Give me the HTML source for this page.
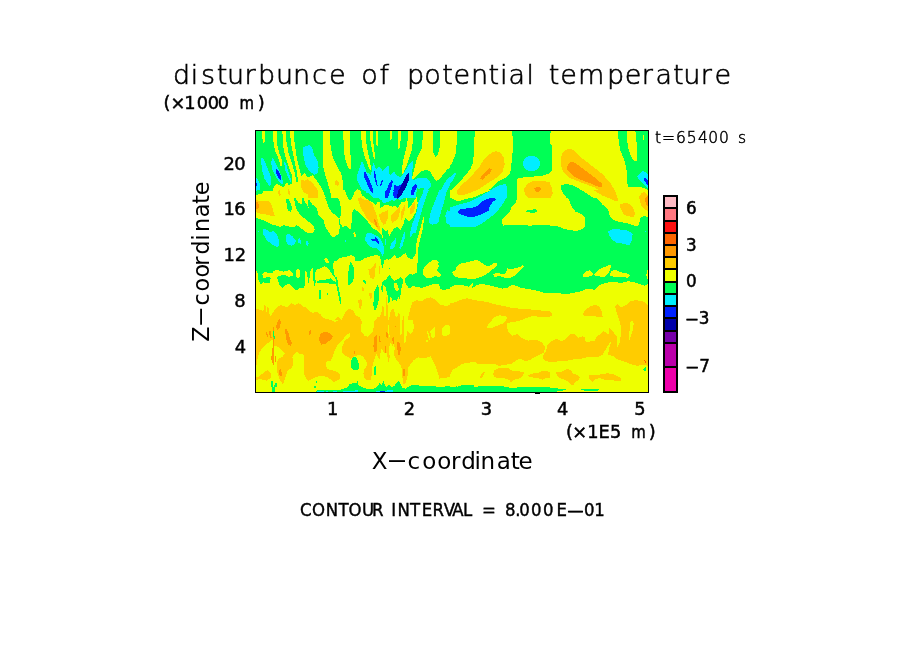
<!DOCTYPE html>
<html lang="en">
<head>
<meta charset="utf-8">
<title>disturbunce of potential temperature</title>
<style>
html,body{margin:0;padding:0;background:#fff;}
body{width:904px;height:654px;overflow:hidden;position:relative;font-family:"Liberation Sans",sans-serif;color:#000;}
svg{position:absolute;left:0;top:0;display:block;}
text{font-family:"Liberation Sans",sans-serif;fill:#000;}
</style>
</head>
<body>
<svg width="904" height="654" viewBox="0 0 904 654">
<defs><clipPath id="plot"><rect x="255.5" y="130.5" width="393" height="262"/></clipPath></defs>
<rect x="0" y="0" width="904" height="654" fill="#fff"/>
<g clip-path="url(#plot)" shape-rendering="crispEdges">
<rect x="255" y="130" width="394" height="263" fill="#00ff55"/>
<path fill="#eeff00" d="M262.3,130.8L264.8,130.8L264.8,141.7L263.4,143.1L262.1,137.3Z M273.1,130.8L277.1,130.8L277.3,145.1L279.2,152.9L281.8,159.6L282.4,165.2L280.7,166.3L278.5,158.5L275.1,150.7L273.4,141.7Z M282.4,130.8L286.3,130.8L286.5,141.7L288.5,152.9L291.9,162.9L294.4,171.9L296.3,180.8L296.9,187.5L292.4,187.5L291.9,175.2L288.5,166.3L285.2,156.2L282.9,145.1Z M290.2,130.8L293.9,130.8L294.4,141.7L296.0,152.9L298.2,164.1L300.8,174.1L302.5,178.6L302.5,187.5L298.0,187.5L297.4,174.1L295.2,164.1L293.0,152.9L290.7,141.7Z M255.4,194.8L261.2,194.2L264.0,190.8L272.3,191.4L275.1,184.7L277.9,184.2L283.5,187.5L286.8,182.5L289.1,185.3L292.4,183.0L299.1,181.9L301.3,176.3L304.7,173.2L308.0,177.5L312.5,175.2L317.0,180.8L321.4,187.5L325.9,198.0L255.4,198.0Z M322.5,130.8L329.8,130.8L330.6,147.3L333.1,158.5L338.2,168.5L341.0,173.0L342.6,180.8L342.6,192.0L341.5,198.0L331.5,198.0L329.8,189.7L327.0,180.8L323.7,169.6L322.5,158.5Z M343.2,130.8L350.0,130.8L350.0,169.1L348.2,167.4L344.9,158.5L343.8,147.3Z M350.0,155.1L351.1,155.1L351.1,168.5L350.0,168.5Z M361.2,130.8L366.0,130.8L366.2,141.7L367.9,152.9L370.1,161.8L371.2,169.6L370.1,171.0L368.4,166.3L364.5,156.2L361.7,145.1Z M370.1,130.8L372.9,130.8L373.2,141.7L374.6,152.9L375.1,159.0L374.0,159.6L372.3,150.7L370.4,140.6Z M375.9,130.8L377.9,130.8L377.9,145.6L376.8,146.8L376.1,141.7Z M390.0,130.8L391.9,130.8L391.9,138.4L390.7,140.6L390.0,137.3Z M398.0,130.8L400.8,130.8L400.8,139.5L399.7,147.3L398.5,149.0L398.0,141.7Z M408.0,130.8L412.8,130.8L412.8,141.7L411.9,149.6L409.2,158.5L405.8,167.4L403.0,174.1L401.9,174.1L401.9,168.5L403.6,158.5L406.4,147.3L408.0,138.4Z M423.1,130.8L433.1,130.8L433.5,152.9L435.4,156.8L437.6,155.1L439.8,147.3L439.8,130.8L450.0,130.8L450.0,167.4L447.1,169.6L442.6,175.2L439.3,179.7L435.9,180.8L433.7,177.5L430.4,171.9L427.0,170.2L421.4,170.8L417.0,175.2L412.5,179.9L411.9,178.6L414.2,169.6L417.0,158.5L419.8,152.9L422.0,147.3Z M352.8,198.0L354.5,192.0L357.3,189.2L360.0,192.0L362.3,196.4L362.8,198.0Z M450.0,130.8L457.3,130.8L456.9,141.7L455.6,154.0L452.2,162.9L450.0,166.3Z M475.1,130.8L511.9,130.8L513.1,141.7L512.5,152.9L511.4,164.1L510.3,173.0L505.8,177.5L499.1,180.8L492.4,187.5L483.5,193.1L472.3,198.0L450.0,198.0L450.0,192.0L456.7,185.3L463.4,177.5L470.1,169.6L472.9,162.9L474.0,152.9L474.0,141.7Z M517.0,198.0L517.0,178.6L527.0,176.9L537.1,176.3L544.9,175.2L550.0,173.0L550.0,198.0Z M551.1,130.8L617.5,130.8L618.6,139.5L620.3,150.7L624.2,159.6L626.5,169.6L627.0,180.8L628.1,186.9L632.6,187.5L638.2,186.9L644.9,188.1L648.5,190.8L648.5,198.0L550.0,198.0L550.0,173.0L551.7,170.8L551.7,145.1L550.0,144.0L550.0,133.9L551.1,132.8Z M627.0,130.8L635.4,130.8L636.5,141.7L636.8,152.9L636.8,160.7L633.7,160.7L630.4,155.1L628.1,147.3L626.5,136.2Z M642.9,135.0L644.0,135.0L644.0,140.1L642.9,140.1Z M324.8,197.3L327.0,202.3L329.2,208.4L332.0,212.9L334.8,214.6L338.7,217.9L339.8,226.8L338.7,233.5L334.8,236.9L332.6,237.4L328.1,231.3L324.8,225.7L323.7,220.1L320.3,217.3L318.1,214.0L317.0,209.0L314.7,205.6L312.5,205.1L310.8,202.3L309.2,199.5L307.5,200.0L308.6,207.9L308.0,206.7L304.7,201.2L303.0,197.3L301.6,197.3L301.9,204.5L298.0,202.3L295.8,198.4L294.3,197.3L294.6,202.3L296.3,209.0L299.1,213.4L302.5,216.8L305.8,219.6L310.8,223.5L314.2,226.8L314.7,230.2L312.5,233.0L308.0,233.5L303.6,230.2L299.1,226.8L296.3,225.2L293.5,227.4L283.5,225.2L280.1,226.8L272.3,224.6L263.4,220.1L255.4,217.9L255.4,197.3Z M331.5,190.0L344.9,190.0L347.1,196.7L350.0,201.2L350.0,229.6L348.2,227.9L346.0,225.7L342.6,226.8L340.4,223.5L339.3,217.9L341.0,215.7L341.0,209.0L339.3,200.0L334.8,195.6Z M350.0,201.2L354.5,193.3L356.7,190.0L360.0,190.0L362.3,195.6L366.7,198.9L372.3,202.3L375.7,205.6L377.9,201.2L379.6,202.3L380.1,207.9L382.4,206.7L385.7,204.5L389.1,205.6L392.4,206.7L394.6,205.6L398.0,207.9L401.3,202.3L405.8,201.2L406.9,196.7L407.5,201.2L408.0,209.0L410.3,206.7L414.7,200.0L417.0,196.1L418.1,197.8L417.5,204.5L415.8,212.3L412.5,217.9L409.2,221.2L406.9,219.0L405.2,217.9L403.6,223.5L400.2,230.2L398.0,226.8L394.6,227.9L391.3,232.4L389.1,236.9L387.9,230.2L385.7,231.3L383.5,229.1L381.8,226.8L382.4,234.6L383.5,240.2L381.2,234.6L377.9,231.3L372.3,227.9L369.0,223.5L366.7,220.1L363.4,216.8L358.9,212.3L354.5,209.0L352.2,212.3L351.1,229.1L350.0,229.6Z M415.8,248.0L417.0,240.2L419.2,232.4L421.4,224.6L423.1,216.8L424.2,217.9L423.1,226.8L420.9,236.9L418.6,245.8L418.1,252.5L417.5,263.0L415.3,263.0Z M353.3,233.0L355.0,231.9L355.8,234.6L355.4,238.0L353.9,236.9Z M350.0,258.1L353.3,255.8L355.0,257.0L354.5,261.4L361.2,261.4L365.6,259.2L370.1,256.4L373.4,257.0L376.8,254.7L380.1,257.0L381.2,263.0L350.0,263.0Z M384.0,263.0L384.6,259.8L387.9,260.3L391.3,258.1L394.6,255.3L396.9,258.1L400.2,257.0L404.7,253.6L405.8,253.1L408.0,258.1L412.5,259.2L415.8,253.6L417.5,263.0Z M430.4,263.0L432.6,260.3L435.9,259.8L439.3,263.0Z M450.0,190.0L491.3,190.0L483.5,193.3L474.6,196.7L464.5,199.5L457.8,201.2L450.0,197.8Z M517.0,190.0L550.0,190.0L550.0,225.2L539.3,224.8L530.4,225.7L517.0,224.8L505.8,224.8L503.0,225.7L502.2,222.4L502.5,219.0L505.8,216.2L510.3,211.2L511.4,206.7L515.8,202.3L517.0,198.9Z M466.7,263.0L471.2,260.9L476.8,260.1L480.1,261.4L481.2,263.0Z M550.0,190.0L561.7,190.0L564.5,194.5L569.0,200.0L572.3,207.9L575.7,211.8L580.1,213.4L584.6,216.8L585.2,225.7L582.4,229.1L577.9,230.7L570.1,230.4L563.4,228.5L557.8,226.3L550.0,225.7Z M582.4,190.0L648.0,190.0L648.0,216.8L644.9,216.2L641.0,216.8L639.3,222.4L638.2,225.5L634.8,225.7L628.1,223.5L619.2,221.8L613.6,220.1L609.7,216.8L609.2,212.3L606.9,207.9L602.5,204.5L599.1,200.0L594.6,196.7L587.9,193.3Z M255.0,300.0L649.0,300.0L649.0,393.0L255.0,393.0Z M255.4,271.2L257.3,271.7L258.4,279.6L260.6,284.6L263.4,282.3L269.5,283.5L270.6,278.4L269.5,276.8L263.4,277.9L262.3,274.0L264.5,272.3L272.3,272.9L274.0,270.6L277.9,270.1L283.5,271.7L289.1,270.1L292.4,272.3L293.0,275.6L289.1,276.8L283.5,274.5L276.8,276.8L279.0,284.0L282.4,288.5L285.7,285.1L289.1,283.5L292.4,287.4L295.8,290.7L299.1,288.5L303.6,287.9L305.2,284.0L304.7,271.7L306.4,271.2L307.5,277.3L308.6,284.0L309.7,277.3L310.8,269.0L312.5,268.4L313.1,277.3L314.2,287.4L315.8,281.8L314.7,272.9L317.0,269.5L321.4,267.8L324.2,266.2L328.1,268.4L331.5,272.9L333.1,276.2L334.8,277.3L333.1,266.2L333.7,261.7L337.1,260.6L339.3,258.3L342.6,257.2L350.0,256.1L350.0,328.0L255.4,328.0Z M295.8,270.6L298.0,269.0L299.7,270.6L299.7,277.3L298.0,279.0L296.0,276.8Z M324.2,258.9L325.9,257.8L328.1,260.0L329.5,262.3L328.1,263.7L325.9,262.3Z M350.0,255.0L353.3,256.1L354.5,260.6L356.7,261.7L361.2,260.6L364.5,258.3L370.1,256.7L375.7,255.0L380.1,256.7L381.8,267.3L382.9,268.4L384.0,260.6L386.8,258.9L389.1,260.6L394.6,255.6L396.9,258.3L400.2,258.9L404.7,255.6L406.9,257.2L410.3,260.0L413.6,257.8L417.0,255.0L417.0,272.9L412.5,274.5L409.2,274.0L405.8,277.3L404.7,281.8L406.9,285.7L409.2,288.5L412.5,286.2L417.0,286.8L421.4,287.9L428.1,285.7L434.8,283.5L438.2,283.5L440.4,288.5L442.6,290.2L450.0,288.5L450.0,328.0L350.0,328.0Z M423.1,269.5L425.9,265.0L430.4,261.7L433.7,260.0L438.2,261.7L438.7,266.2L437.1,270.6L439.3,272.9L441.0,275.1L439.3,276.8L434.8,276.2L430.4,278.4L425.9,277.9L423.1,275.1Z M450.0,287.4L454.5,285.1L461.2,284.9L469.0,286.8L472.3,282.9L473.2,283.5L471.8,288.5L475.7,285.7L480.1,284.2L486.8,284.6L494.6,286.8L502.5,288.5L508.0,287.9L510.3,285.7L513.6,284.9L517.0,286.2L521.4,287.9L528.1,289.0L537.1,290.7L543.8,292.9L550.0,292.9L550.0,328.0L450.0,328.0Z M452.0,271.7L455.0,271.2L456.7,266.2L461.2,263.4L470.1,261.7L475.7,260.0L480.1,261.7L485.7,265.6L489.1,266.2L493.5,263.4L496.9,263.0L496.9,266.2L492.4,269.5L486.8,274.0L480.1,277.3L474.6,279.0L465.6,278.4L456.7,277.3L453.3,275.1Z M493.0,274.5L498.0,272.3L502.5,274.5L505.8,272.9L507.5,268.4L511.4,269.0L514.7,268.4L519.2,267.3L523.1,265.0L523.9,266.2L520.3,270.6L515.8,275.1L510.3,277.9L504.7,277.9L500.2,276.2L494.6,276.8Z M550.0,292.9L561.2,293.5L570.1,293.5L579.0,291.8L586.8,289.0L594.6,289.6L599.1,285.1L605.8,282.9L612.5,281.8L621.4,282.9L628.1,281.2L634.8,282.3L641.5,284.6L644.9,285.7L648.2,283.5L648.2,328.0L550.0,328.0Z M582.9,275.1L585.7,271.7L589.6,270.1L593.0,274.0L592.4,275.6L586.8,277.3L583.5,276.8Z M594.1,274.0L598.0,270.1L603.6,267.3L608.0,265.6L610.8,265.0L610.3,269.5L608.0,274.0L603.6,277.3L599.1,276.2L594.6,275.6Z M609.7,275.1L611.9,270.6L615.8,270.1L621.4,272.3L628.1,273.8L630.1,275.6L628.1,277.9L621.4,276.8L614.7,276.8L610.3,276.2Z M646.2,275.1L647.1,270.6L648.2,270.1L648.2,279.0L647.1,278.4Z"/>
<path fill="#00ff55" d="M561.2,185.3L564.5,184.2L571.2,184.7L579.0,188.6L587.9,194.2L593.5,198.0L566.7,198.0L562.3,192.0L561.2,188.6Z M286.3,199.5L288.5,198.9L290.7,203.4L292.2,209.0L290.7,211.8L288.5,211.2L286.8,206.7Z M525.0,211.2L528.1,210.1L532.6,209.5L535.9,209.2L537.6,210.6L536.5,212.3L532.6,212.9L528.1,212.3Z M316.4,282.3L319.2,280.1L325.9,279.6L330.4,278.4L333.7,281.2L337.1,282.3L336.5,284.0L330.4,283.8L325.9,282.9L319.2,283.5Z M319.2,290.2L320.5,290.2L320.9,298.5L319.4,298.5Z M326.8,292.9L328.1,292.9L328.1,294.6L326.8,294.6Z M335.4,277.3L337.1,277.3L338.7,288.5L341.0,299.6L341.3,305.2L340.2,304.1L338.2,294.1L335.9,282.9Z M347.8,276.2L348.9,268.4L350.0,261.7L351.1,261.7L353.3,266.2L354.5,271.7L353.3,280.7L350.0,285.1L347.8,285.1Z M362.8,280.1L364.5,280.1L366.7,282.9L365.6,284.0L363.4,281.8Z M374.0,291.8L376.8,286.2L377.9,285.1L379.0,288.5L379.2,297.4L377.9,304.1L376.2,308.6L374.6,310.8L373.4,305.2L373.7,297.4Z M382.4,281.8L385.7,279.6L389.1,275.1L390.2,274.0L390.7,277.3L394.6,280.7L398.0,279.0L400.8,277.3L402.5,279.0L402.5,284.0L400.8,290.7L400.2,299.6L398.5,297.4L396.9,300.8L394.6,299.6L392.4,300.8L390.7,296.3L389.6,301.9L388.5,303.0L387.9,296.3L386.8,291.8L385.7,287.4L383.5,285.1L382.9,291.8L381.8,291.8L381.2,287.4Z M389.1,267.8L390.2,267.8L390.2,269.0L389.1,269.0Z"/>
<path fill="#eeff00" d="M394.6,282.9L396.3,282.3L398.0,286.2L398.9,289.6L396.9,291.3L394.6,288.5L394.1,285.1Z"/>
<path fill="#ffcc00" d="M301.3,179.7L304.7,180.8L307.5,179.1L312.5,183.0L317.0,188.6L318.1,194.2L317.0,198.0L308.0,198.0L308.0,193.1L303.6,192.0L301.3,187.5Z M334.3,181.9L336.5,179.7L339.1,182.5L338.2,185.8L335.4,184.7Z M277.3,190.8L279.6,190.3L280.7,194.2L280.1,196.4L278.5,194.2Z M287.4,189.7L288.5,188.6L290.0,192.0L289.6,194.8L287.9,193.1Z M456.7,192.0L461.2,185.3L470.1,177.5L479.0,167.4L484.6,158.5L491.3,152.9L495.8,151.2L500.2,152.3L503.6,157.4L504.7,164.1L502.5,171.9L496.9,177.5L487.9,183.0L477.9,189.7L466.7,194.2L460.0,195.3L456.7,193.6Z M524.2,188.6L527.0,184.2L532.6,181.4L539.3,180.8L550.0,181.9L550.0,198.0L528.1,198.0L524.8,194.2Z M560.6,158.5L562.3,152.9L566.7,149.6L571.2,149.0L575.7,151.8L582.4,158.5L592.4,166.3L602.5,174.1L610.3,183.0L615.8,192.0L617.0,198.0L608.0,198.0L602.5,192.0L594.6,187.5L585.7,184.2L576.8,180.8L569.0,177.5L563.4,171.9L560.6,165.2Z M550.0,184.2L551.7,187.5L552.2,192.0L551.1,198.0L550.0,198.0Z M639.3,196.4L643.8,192.0L646.0,193.1L647.1,198.0L639.3,198.0Z M255.4,198.9L258.9,201.2L269.0,201.2L271.2,204.5L273.4,211.2L274.6,215.7L272.3,216.2L266.7,214.6L261.2,214.0L255.4,211.8Z M302.5,190.0L318.1,190.0L318.1,196.7L317.0,198.7L312.5,196.7L308.0,194.5L303.6,192.2Z M358.4,197.8L360.6,197.3L364.5,200.0L369.0,200.0L372.3,203.4L374.6,210.1L376.8,215.7L377.9,221.2L379.6,226.8L380.1,231.3L377.9,229.1L374.6,224.6L371.2,222.4L366.7,217.9L363.4,212.3L360.0,205.6L358.4,201.2Z M379.2,214.6L382.4,212.3L385.7,211.2L388.5,210.1L387.9,217.9L385.7,223.5L383.5,224.6L381.2,221.2L379.6,217.9Z M391.3,215.7L394.6,212.3L398.0,209.0L400.2,205.6L399.7,212.3L398.0,219.0L394.6,221.2L391.9,223.5L391.3,220.1Z M400.8,212.3L402.5,209.0L404.5,205.1L404.7,210.1L403.0,216.8L401.3,220.1Z M409.7,209.0L412.5,204.5L414.7,201.7L415.3,206.7L413.6,212.3L410.8,215.1L409.7,212.3Z M456.7,190.0L474.6,190.0L470.1,192.8L463.4,195.0L458.9,195.0L456.7,192.2Z M524.2,190.0L550.0,190.0L550.0,197.8L539.3,198.4L532.6,196.7L527.0,193.3Z M550.0,190.0L552.2,190.0L552.8,193.3L551.1,196.1L550.0,196.7Z M593.5,190.0L614.2,190.0L617.0,195.6L618.1,201.2L614.7,200.6L608.0,197.8L601.3,195.0L596.9,192.2Z M620.3,204.0L625.9,202.8L630.4,204.5L633.7,209.0L635.0,213.4L633.7,217.3L628.1,216.2L623.7,214.6L621.4,210.1L620.1,206.7Z M639.3,196.7L641.5,193.3L644.3,192.2L648.0,195.6L648.0,211.2L644.9,209.5L641.5,205.6L639.8,201.2Z M255.4,308.6L260.0,309.7L263.4,310.8L264.5,305.2L265.6,305.8L266.2,314.2L267.3,306.3L268.4,307.5L269.0,313.0L270.6,315.8L273.4,311.9L276.8,307.5L280.1,305.2L283.5,305.8L286.8,307.5L291.3,303.0L294.6,305.2L299.1,303.2L302.5,306.3L305.8,307.5L309.2,310.8L312.5,313.0L317.0,311.4L320.3,314.2L323.7,318.1L328.1,319.2L332.6,322.0L335.9,318.6L338.2,316.9L341.5,319.7L343.8,315.3L346.0,310.8L350.0,308.6L350.0,328.0L255.4,328.0Z M368.4,269.5L372.3,267.8L375.1,262.8L375.9,263.4L375.4,269.5L375.1,276.2L373.4,279.6L370.6,277.9L369.2,274.0Z M378.8,266.2L379.9,266.2L379.9,274.0L378.8,274.0Z M362.1,287.4L363.4,287.4L364.0,290.7L362.8,291.8L362.1,290.2Z M369.2,293.5L371.8,292.9L372.1,296.3L371.2,299.6L369.9,299.1Z M358.4,300.2L360.6,299.1L362.1,300.8L361.7,305.2L360.6,309.7L359.5,307.5L358.4,303.0Z M350.0,309.1L353.3,310.8L355.6,315.3L360.0,317.5L361.7,322.0L361.2,328.0L350.0,328.0Z M374.6,328.0L375.1,322.0L377.3,317.5L380.1,316.4L381.8,310.8L382.9,304.1L384.0,308.6L384.6,317.5L385.7,315.3L385.9,308.6L386.3,295.2L387.4,303.0L387.9,310.8L388.5,322.0L390.2,313.0L392.4,308.6L394.1,309.7L395.2,315.3L396.9,317.5L399.1,310.8L399.7,315.3L399.7,328.0Z M402.5,328.0L402.7,317.5L403.6,315.3L404.1,328.0Z M408.0,317.5L410.3,308.6L412.5,301.9L417.0,300.2L421.4,301.3L425.9,298.5L430.4,297.4L434.8,299.1L438.2,303.0L441.5,305.2L446.0,305.8L450.0,305.2L450.0,328.0L413.6,328.0L411.4,323.1L408.6,320.8Z M450.0,303.0L454.5,302.4L461.2,299.6L466.7,298.3L472.3,299.6L477.9,300.8L486.8,301.9L494.6,304.1L502.5,305.8L510.3,307.5L519.2,308.6L528.1,309.1L537.1,310.2L544.9,310.8L550.0,310.8L550.0,317.5L539.3,316.9L532.6,315.8L528.1,317.5L519.2,320.8L510.3,322.5L506.9,323.6L506.9,328.0L486.8,328.0L450.0,328.0Z M550.0,311.9L551.7,313.0L552.0,315.3L550.0,316.9Z M582.4,314.2L585.7,309.7L591.3,305.8L595.8,305.0L599.1,306.3L601.9,311.9L602.7,316.9L594.6,316.4L584.6,316.4Z M615.3,306.3L617.5,304.1L621.4,307.5L625.9,305.2L630.4,301.3L634.8,300.2L641.5,300.8L646.0,303.0L648.2,306.3L648.2,328.0L634.3,328.0L633.7,322.0L632.0,320.3L630.4,322.0L629.8,328.0L621.4,328.0L619.2,319.7L617.0,314.2L615.8,309.7Z M255.4,320.0L350.0,320.0L350.0,332.3L346.0,335.6L341.5,341.2L337.1,345.7L334.8,350.1L332.6,356.8L330.4,361.3L327.0,360.7L325.9,364.6L327.0,369.1L332.6,370.2L338.2,372.5L340.4,375.8L339.3,379.2L333.7,382.5L330.4,379.2L327.0,376.9L321.4,375.8L315.8,376.9L311.4,379.2L308.0,380.8L304.7,375.8L303.6,370.2L304.1,362.4L303.6,354.6L299.1,353.5L296.9,351.8L294.6,353.5L292.4,356.8L293.0,364.6L291.3,368.0L287.9,370.2L285.7,375.8L284.0,382.5L282.4,383.6L279.6,379.2L277.3,372.5L276.8,364.6L277.9,359.1L282.4,356.8L284.6,353.5L281.2,350.1L277.9,346.8L274.0,345.7L272.3,339.5L269.0,342.3L264.5,345.7L260.0,351.2L257.8,356.8L256.7,364.6L255.4,364.6Z M255.4,378.0L260.0,375.8L264.5,371.9L267.9,370.2L270.6,373.6L270.6,378.0L266.7,380.8L261.2,379.2L256.7,379.7L255.4,380.3Z M350.0,357.9L344.3,355.2L341.5,351.2L342.1,346.8L344.9,340.6L350.0,336.7Z M350.0,320.0L361.2,320.0L361.2,331.2L364.5,335.6L367.9,336.7L372.3,332.3L374.0,326.7L374.6,320.0L399.7,320.0L400.2,334.5L401.3,336.7L401.9,328.9L402.5,320.0L403.6,320.0L404.1,342.3L405.2,343.4L405.8,333.4L406.9,326.7L408.6,320.0L450.0,320.0L450.0,376.9L444.9,378.0L439.3,378.6L438.2,373.6L435.9,366.9L432.6,360.2L430.4,356.3L427.0,357.4L422.5,358.5L418.1,357.4L413.6,360.2L410.3,364.6L408.0,368.0L407.5,375.8L405.8,382.5L403.6,384.7L402.5,378.0L401.9,369.1L400.2,364.6L396.9,360.2L394.6,356.8L393.5,351.2L392.4,345.7L390.2,342.3L389.1,347.9L389.6,356.8L389.1,364.6L387.9,359.1L386.8,353.5L383.5,352.4L381.8,347.9L380.1,354.6L379.6,359.1L377.9,357.9L376.8,353.5L375.1,356.8L373.4,362.4L372.3,366.9L371.8,373.6L371.2,379.2L367.9,380.8L364.5,378.0L363.4,373.6L364.5,369.1L366.7,365.8L366.7,362.4L363.4,356.8L360.6,355.2L355.6,355.7L352.2,357.9L350.0,359.1Z M450.0,320.0L491.9,320.0L489.1,323.3L485.7,326.7L494.6,325.6L500.2,324.5L505.8,322.2L506.9,326.7L508.0,331.2L512.5,335.6L517.0,334.0L521.4,337.9L528.1,340.6L534.8,340.1L539.3,340.6L542.6,343.4L545.4,347.9L543.8,352.4L539.3,355.2L534.8,356.8L530.4,359.6L525.9,361.3L522.5,359.6L519.2,358.5L515.8,360.7L511.4,364.1L505.8,364.6L499.1,365.8L494.6,364.1L491.3,363.5L486.8,364.6L483.5,363.5L479.0,364.6L474.6,361.9L470.1,362.4L461.2,364.1L456.7,368.0L453.3,369.1L450.0,374.7Z M550.0,361.9L544.9,360.7L542.6,357.9L543.8,353.5L546.0,351.2L547.1,345.7L550.0,342.3Z M493.0,373.6L494.6,370.2L499.1,368.2L508.0,368.0L512.5,370.8L519.2,371.3L523.7,372.5L523.1,375.8L519.2,378.6L513.6,379.7L510.8,382.5L509.7,380.3L505.8,378.6L498.0,378.0L494.1,376.9Z M528.1,375.2L532.6,373.6L538.2,373.0L541.5,371.3L547.1,370.8L550.0,372.5L550.0,378.0L546.0,378.0L542.6,379.7L538.2,378.0L532.6,377.5L529.2,376.9Z M479.6,378.0L481.2,374.7L483.5,371.9L484.8,371.9L483.5,375.2L481.2,378.6Z M550.0,342.3L553.3,340.1L556.7,339.0L561.2,341.2L566.7,338.4L570.1,334.5L574.6,334.0L577.9,337.9L582.4,336.2L585.2,337.9L585.7,342.3L594.6,340.6L596.9,336.7L603.6,331.2L606.9,333.4L608.6,334.5L609.2,327.3L612.5,331.2L617.0,336.7L617.5,346.8L619.8,342.3L621.4,331.2L620.3,320.0L630.4,320.0L629.8,328.9L628.7,336.7L629.2,341.2L632.6,331.2L633.7,323.3L632.6,320.0L648.2,320.0L648.2,365.8L643.8,364.6L637.1,365.8L630.4,364.1L623.7,361.3L617.0,359.1L612.5,355.7L608.0,355.2L609.2,347.9L611.4,341.2L609.2,343.4L605.8,349.0L602.5,354.6L598.0,357.4L589.1,356.8L582.4,358.5L574.6,359.1L566.7,360.7L558.9,361.3L550.0,362.4Z M555.6,372.5L561.2,371.9L566.7,369.1L570.1,369.7L573.4,373.6L577.9,375.2L579.9,378.0L577.9,380.3L574.6,382.5L574.0,385.3L571.2,385.3L567.9,381.4L563.4,379.2L558.9,378.0L556.7,374.7Z M588.5,375.2L592.4,374.7L596.9,375.2L601.3,374.1L608.0,373.3L614.7,374.7L619.2,376.9L621.4,379.2L620.3,381.4L615.8,380.8L610.3,379.7L605.8,380.3L600.2,378.0L595.8,379.2L593.0,381.9L590.2,380.3L588.5,377.5Z"/>
<path fill="#eeff00" d="M486.8,326.4L491.3,320.8L494.6,316.9L499.1,315.3L504.7,315.8L506.9,317.5L505.8,320.8L502.5,323.6L496.9,325.9L491.3,328.0L486.8,328.0Z M330.9,320.0L338.2,320.0L335.9,321.7L332.6,321.3Z M405.8,320.0L412.5,320.0L414.2,326.7L413.1,331.2L410.3,334.0L407.5,331.2L406.4,336.7L405.2,343.4L404.1,342.3L404.1,331.2Z M441.5,328.9L444.9,325.6L448.2,325.0L450.0,326.7L450.0,333.4L447.1,335.6L443.8,336.7L441.5,333.4Z M430.4,331.2L432.6,328.4L434.8,327.3L435.4,333.4L434.3,338.4L432.0,337.9L430.6,334.5Z M425.9,340.6L427.6,339.5L428.1,341.8L426.5,342.3Z M427.0,331.7L428.1,331.2L429.8,336.7L430.4,340.6L429.2,340.1L427.9,335.6Z M434.8,371.3L436.5,370.8L436.5,374.7L435.0,375.2Z M387.9,324.5L389.1,324.5L389.6,336.7L389.1,340.1L388.2,331.2Z M393.0,337.9L394.1,340.1L394.6,349.0L394.1,356.8L393.0,351.2Z"/>
<path fill="#ff9900" d="M480.1,178.6L482.4,175.2L486.8,170.8L489.6,168.0L491.9,169.6L490.2,173.0L485.7,176.3L482.4,179.7Z M534.3,188.1L537.1,186.9L540.4,187.5L541.0,189.7L539.3,191.7L535.9,191.4Z M567.3,166.3L569.0,162.9L572.3,161.8L576.8,164.1L585.7,170.8L594.6,177.5L601.3,183.0L602.5,185.8L600.2,187.5L592.4,184.2L583.5,180.8L575.7,177.5L570.1,173.0L567.3,169.6Z M255.4,201.2L257.8,202.3L258.9,205.6L258.4,208.4L255.4,209.0Z M374.0,219.6L375.1,219.0L376.8,222.4L377.7,226.8L376.2,226.8L374.8,223.5Z M534.8,190.0L540.4,190.0L539.3,191.7L536.5,191.7Z M645.4,198.4L647.1,196.1L648.0,196.7L648.0,206.7L646.5,205.1L645.1,201.2Z M276.8,328.0L277.3,322.0L279.2,318.8L280.7,322.0L280.1,328.0Z M394.6,325.9L395.8,325.9L395.8,327.0L394.6,327.0Z M276.2,325.6L277.9,321.1L279.6,320.0L281.0,321.1L280.1,325.6L278.5,329.5L276.8,330.6Z M285.2,329.5L286.8,328.9L288.5,333.4L290.2,339.0L291.9,342.9L290.7,345.7L288.5,345.1L286.8,341.2L285.5,334.5Z M319.8,335.6L321.4,332.8L325.9,331.7L330.4,333.4L332.8,336.7L331.5,339.0L328.1,341.8L324.8,344.0L321.4,344.6L319.8,341.8L319.0,339.0Z M309.2,331.2L310.8,330.0L310.8,333.4L309.7,335.6L308.9,334.0Z M265.6,331.7L266.7,331.7L267.9,335.6L267.3,337.9L266.2,334.5Z M269.0,331.2L270.6,330.6L271.2,335.6L271.8,338.4L270.1,337.9L269.2,334.0Z M272.9,327.3L274.0,327.3L274.0,342.3L273.7,353.5L274.0,364.6L272.9,364.6L271.8,361.3L271.2,357.9L272.3,351.2L272.9,342.3Z M279.2,370.2L280.7,369.1L281.8,372.5L282.4,375.8L280.1,376.4L279.0,373.6Z M275.4,355.7L276.2,355.7L276.2,361.9L275.4,361.9Z M373.4,345.7L374.6,336.7L376.8,334.5L377.3,342.3L376.8,351.2L375.1,352.9L373.7,350.1Z M379.0,336.7L380.1,336.2L380.7,342.3L379.6,342.9Z M385.7,332.3L387.4,331.7L387.9,337.9L386.6,337.9Z M391.9,337.9L393.5,337.3L394.1,343.4L393.0,344.0Z M396.9,342.3L399.1,341.8L400.8,347.9L400.2,354.6L398.0,354.6L397.4,349.0Z M384.8,346.2L385.9,346.2L386.3,352.4L385.2,352.9Z M402.7,369.7L404.7,368.5L405.2,375.8L403.6,376.9Z M353.9,351.2L355.0,351.2L355.0,353.5L353.9,353.5Z"/>
<path fill="#ff6600" d="M644.3,360.2L645.4,360.7L646.0,363.5L644.9,363.0Z"/>
<path fill="#00eeff" d="M261.2,157.4L263.4,158.5L266.7,166.3L270.6,176.3L270.6,185.3L269.0,185.8L264.5,178.6L261.7,169.6Z M272.3,157.4L275.1,161.8L279.0,169.6L282.4,178.6L282.9,184.2L280.1,183.0L275.7,176.3L272.3,169.6L271.2,162.9Z M284.0,161.3L285.7,162.9L288.5,171.9L291.3,179.7L290.7,181.9L287.9,177.5L285.2,169.6Z M303.6,146.8L309.2,145.1L311.9,147.3L314.2,155.1L317.5,160.7L318.6,167.4L318.1,173.0L314.7,174.7L310.3,171.9L305.8,166.3L303.6,157.4L303.0,150.7Z M255.4,176.9L257.8,179.7L260.6,185.8L259.5,189.7L256.7,190.8L255.4,190.8Z M356.7,175.2L358.4,171.9L361.2,162.4L362.8,161.8L364.5,167.4L366.7,171.9L370.6,175.2L372.3,169.6L372.7,162.4L374.0,163.5L376.2,169.6L378.5,166.5L380.1,167.4L382.4,170.8L385.7,167.4L387.9,165.2L389.1,167.4L388.5,171.9L390.2,175.2L394.1,171.9L396.9,175.2L400.2,177.5L404.7,171.9L409.2,164.1L412.5,160.5L413.4,161.8L412.5,169.6L411.9,178.6L414.2,180.8L417.0,188.6L415.8,198.0L374.0,198.0L372.3,196.4L366.7,192.0L362.3,189.7L360.0,186.4L357.3,180.8Z M412.5,180.8L417.0,178.6L421.4,177.5L427.0,178.6L430.4,181.9L430.9,186.4L428.1,189.7L422.5,192.0L421.4,198.0L419.2,198.0L419.8,189.7L417.0,187.5Z M450.0,177.5L454.5,173.0L456.1,173.5L453.3,179.7L450.0,184.2Z M479.0,198.0L486.8,193.1L494.6,187.5L501.3,184.7L505.8,184.2L507.5,187.5L506.9,198.0Z M540.1,163.5L539.6,165.8L538.4,168.0L536.5,169.6L534.1,170.7L531.5,171.1L528.8,170.7L526.4,169.6L524.5,168.0L523.3,165.8L522.9,163.5L523.3,161.2L524.5,159.0L526.4,157.4L528.8,156.3L531.5,155.9L534.1,156.3L536.5,157.4L538.4,159.0L539.6,161.2Z M637.1,176.9L642.6,170.8L645.4,171.9L648.5,175.2L648.5,189.7L644.9,185.3L640.4,180.8Z M262.8,229.1L265.6,229.1L270.1,231.9L273.4,231.3L276.8,234.6L279.0,240.2L279.0,245.8L277.3,247.5L272.3,244.7L266.7,240.2L263.4,234.6Z M286.3,234.6L289.6,234.1L292.4,236.3L295.8,240.8L295.2,243.6L291.9,245.8L287.9,244.7L286.3,241.3Z M297.4,240.2L299.7,238.2L301.1,241.3L300.8,243.8L298.9,243.3Z M305.8,241.3L307.5,241.3L308.9,243.6L307.5,245.8L306.0,244.1Z M257.8,230.7L258.9,230.7L258.9,231.9L257.8,231.9Z M344.9,240.2L346.0,240.2L346.0,241.9L344.9,241.9Z M365.6,190.0L417.0,190.0L415.8,194.5L412.5,195.6L408.0,194.5L404.7,197.8L400.2,200.0L396.9,198.9L394.6,201.2L391.3,200.0L387.9,202.3L383.5,202.8L381.2,200.0L379.0,198.9L375.7,195.6L372.3,195.6L370.1,193.3L366.7,193.3Z M421.4,190.0L429.2,190.0L425.9,196.7L422.5,206.7L419.2,215.7L415.8,223.5L413.6,230.2L411.9,235.8L410.3,236.9L410.3,231.3L412.5,223.5L415.8,214.6L419.2,204.5L421.4,196.7Z M439.3,190.0L446.0,190.0L444.9,198.9L441.5,206.7L439.3,215.7L438.2,222.4L432.6,224.0L429.2,222.4L429.8,214.6L432.6,206.7L435.9,198.9Z M447.1,210.1L450.0,211.2L450.0,225.7L446.0,222.4L445.4,215.7Z M366.7,233.5L369.0,232.4L374.6,234.6L379.0,236.9L382.4,242.5L384.0,248.0L383.5,253.6L382.4,255.8L380.1,251.4L376.8,248.0L372.3,248.0L367.9,244.7L365.1,240.2L365.6,235.8Z M389.6,248.0L391.3,243.6L394.1,240.2L395.8,238.0L396.0,242.5L394.6,246.9L391.9,249.7Z M399.1,248.0L401.3,240.2L403.6,233.5L404.9,231.3L404.7,238.0L402.5,245.8L400.2,249.2Z M384.6,238.0L385.7,239.1L385.9,244.7L384.8,245.8Z M450.0,207.3L458.9,204.5L467.9,202.3L475.7,198.9L483.5,194.5L492.4,190.0L507.5,190.0L506.9,195.6L504.7,201.2L499.1,209.0L492.4,215.7L483.5,222.4L475.7,226.8L450.0,226.8Z M608.0,231.9L610.8,229.6L617.0,229.1L625.9,230.2L630.4,231.9L632.6,234.6L632.0,240.2L629.8,244.7L627.0,244.7L621.4,243.3L615.8,242.5L611.9,239.1L609.2,235.2Z M644.9,231.1L646.0,231.1L646.0,232.2L644.9,232.2Z M450.0,185.7L448.2,187.9L446.0,193.5L444.3,201.3L441.5,210.2L439.3,218.0L438.2,223.1L432.6,224.7L429.8,224.2L429.2,220.3L430.4,213.6L433.7,206.9L437.1,199.1L440.4,191.2L443.8,184.6L447.1,179.0L450.0,176.7Z M422.5,189.0L428.7,187.9L427.0,194.6L424.2,202.4L422.0,210.2L419.8,218.0L417.5,225.8L415.8,233.0L410.8,233.0L413.1,225.8L415.8,215.8L417.5,206.9L419.2,197.9Z"/>
<path fill="#00ff55" d="M272.9,330.6L274.0,330.6L274.8,339.0L273.7,339.0Z M271.2,380.8L272.9,380.8L273.4,387.0L275.1,383.6L276.8,383.1L276.8,387.0L275.1,387.5L274.8,392.0L271.8,392.0Z M314.2,385.8L315.8,385.8L315.8,388.1L314.2,388.1Z M316.1,381.2L317.2,381.2L317.2,382.5L316.1,382.5Z M315.8,392.0L317.0,390.3L328.1,390.3L339.3,390.1L342.6,389.2L348.2,387.0L350.0,382.5L350.0,392.0Z M351.1,361.3L352.8,356.8L355.6,356.8L357.8,360.2L358.9,364.6L358.9,369.1L355.6,370.2L352.8,369.7L351.1,366.9Z M374.0,368.0L375.7,365.8L376.2,369.1L375.7,374.7L374.0,375.8Z M350.0,384.2L353.3,383.1L356.7,382.5L357.8,380.3L358.4,384.7L361.2,387.0L366.7,388.6L372.3,389.2L375.7,387.5L379.0,384.2L380.1,382.5L381.2,385.8L383.5,380.8L384.6,384.7L386.8,387.0L389.1,384.2L391.3,387.0L394.6,385.8L396.9,382.5L398.5,380.8L400.2,383.6L402.5,388.1L405.8,388.6L409.2,386.4L413.6,384.5L418.1,385.3L422.5,386.4L428.1,385.8L434.8,386.4L441.5,387.0L450.0,385.8L450.0,392.0L350.0,392.0Z M450.0,387.0L455.6,387.5L456.1,384.2L456.9,387.0L461.2,385.3L467.9,385.0L474.0,384.7L474.6,387.0L480.1,386.1L494.6,385.8L502.5,386.1L510.3,387.9L517.0,387.5L519.2,387.0L528.1,386.7L534.8,387.5L542.6,387.0L550.0,387.5L550.0,392.0L450.0,392.0Z M643.2,369.1L646.0,366.9L646.0,370.8L643.8,370.8Z M550.0,388.1L556.7,387.9L558.9,389.2L565.6,389.0L565.6,390.1L558.9,391.4L550.0,392.0Z M581.2,389.2L599.1,389.0L598.0,390.5L585.7,390.9L581.8,390.1Z M417.2,197.4L418.3,190.7L420.9,187.9L423.9,187.7L423.1,192.4L420.3,198.5L418.1,202.4L416.7,201.3Z"/>
<path fill="#0022ff" d="M276.2,169.1L277.9,170.2L280.7,175.8L281.0,179.7L279.2,179.1L276.8,174.7L275.9,171.3Z M255.4,181.9L256.9,183.0L256.9,185.8L255.4,186.4Z M364.0,172.4L365.6,171.9L368.4,177.5L371.2,184.2L372.9,189.7L372.9,193.1L370.6,190.8L367.3,184.2L364.5,177.5Z M374.0,171.0L375.1,171.9L376.2,178.6L377.7,185.3L376.8,186.4L375.1,180.8L374.0,175.2Z M381.8,180.2L382.9,179.7L382.4,183.0L380.7,186.4L380.1,185.3Z M391.3,180.2L393.0,180.8L391.9,186.4L389.1,194.2L387.9,198.0L385.2,198.0L385.7,193.1L388.5,185.3Z M394.6,184.2L396.9,185.8L400.2,185.3L402.5,183.0L399.1,192.0L396.9,198.0L394.1,198.0L393.0,194.2L394.1,188.6Z M415.3,184.2L417.0,184.7L416.4,188.6L413.6,193.1L411.4,194.8L410.8,192.0L412.5,187.5Z M644.3,178.0L646.5,178.6L648.5,181.9L648.5,186.4L646.0,183.0L644.3,180.2Z M371.2,190.0L372.9,190.0L372.9,192.8L371.8,192.8Z M385.7,190.0L390.2,190.0L388.5,195.6L385.7,197.8L384.8,195.6Z M393.0,190.0L403.6,190.0L401.9,194.5L398.0,198.9L396.3,197.8L394.6,194.5Z M411.4,190.0L415.3,190.0L413.6,194.5L411.4,195.0Z M371.2,239.1L374.6,238.5L375.1,236.9L377.3,239.1L379.0,242.5L378.5,243.6L375.7,241.3L372.3,240.8Z M457.8,211.2L461.2,209.0L472.3,207.9L477.9,205.6L482.4,201.2L489.1,198.4L495.2,198.0L495.8,199.5L492.4,202.3L489.6,206.7L489.1,210.6L483.5,213.4L474.6,216.8L467.9,216.8L461.2,214.6L458.4,212.9Z"/>
<path fill="#0000aa" d="M408.0,173.0L409.2,174.1L408.6,180.8L405.8,187.5L402.5,193.1L400.2,196.4L398.5,194.2L399.7,188.6L402.5,183.0L405.2,177.5Z M398.5,190.0L403.6,190.0L401.9,194.5L398.0,198.9L396.9,197.3Z"/>
<path fill="#00eeff" d="M317.0,390.9L323.7,390.5L323.7,392.0L317.0,392.0Z M325.9,390.9L328.1,390.9L328.1,392.0L325.9,392.0Z M332.6,390.9L337.1,390.5L337.1,392.0L332.6,392.0Z M342.6,390.9L350.0,390.5L350.0,392.0L342.6,392.0Z M350.0,390.9L357.8,390.3L357.8,392.0L350.0,392.0Z M375.7,390.9L392.4,390.3L393.5,392.0L375.7,392.0Z"/>
<path fill="#0022ff" d="M380.1,390.5L385.2,390.5L385.2,392.0L380.1,392.0Z"/>
</g>
<rect x="255.5" y="130.5" width="393" height="262" fill="none" stroke="#000" stroke-width="1" shape-rendering="crispEdges"/>
<rect x="535" y="393" width="5" height="1" fill="#000" shape-rendering="crispEdges"/>
<!-- colour bar -->
<g shape-rendering="crispEdges">
<rect x="663" y="195" width="15" height="198" fill="#000"/>
<rect x="665" y="197" width="11" height="10" fill="#ffbbc4"/>
<rect x="665" y="209" width="11" height="11" fill="#ff7780"/>
<rect x="665" y="222" width="11" height="10" fill="#ff1111"/>
<rect x="665" y="234" width="11" height="10" fill="#ff6600"/>
<rect x="665" y="246" width="11" height="10" fill="#ff9900"/>
<rect x="665" y="258" width="11" height="10" fill="#ffcc00"/>
<rect x="665" y="270" width="11" height="11" fill="#eeff00"/>
<rect x="665" y="283" width="11" height="10" fill="#00ff55"/>
<rect x="665" y="295" width="11" height="10" fill="#00eeff"/>
<rect x="665" y="307" width="11" height="10" fill="#0022ff"/>
<rect x="665" y="319" width="11" height="11" fill="#0000aa"/>
<rect x="665" y="332" width="11" height="10" fill="#7700aa"/>
<rect x="665" y="344" width="11" height="22" fill="#bb00aa"/>
<rect x="665" y="368" width="11" height="23" fill="#ee00aa"/>
</g>
<text x="172.9 190.8 200.9 216.7 227.0 244.6 258.0 275.9 292.9 312.0 328.9 345.5 361.2 379.5 389.0 406.9 424.2 442.2 453.6 470.9 488.5 500.0 508.4 526.5 534.0 548.7 560.2 578.0 607.1 624.7 641.7 655.5 672.9 683.2 700.8 714.4" y="84.4" font-size="27" style="font-family:'DejaVu Sans','Liberation Sans',sans-serif;font-weight:200" stroke="#000" stroke-width="0.6">disturbunce of potential temperature</text>
<text x="163.5 170.4 184.3 196.8 207.7 217.7 229.0 239.5 257.7" y="108.6" font-size="17.8" style="font-family:'DejaVu Sans','Liberation Sans',sans-serif;font-weight:400" stroke="#000" stroke-width="0.5">(×1000 <tspan textLength="14.5" lengthAdjust="spacingAndGlyphs">m</tspan>)</text>
<text x="655.1 662.0 676.0 686.8 698.0 708.2 719.0 728.9 737.9" y="142.6" font-size="15.5" style="font-family:'DejaVu Sans','Liberation Sans',sans-serif;font-weight:200" stroke="#000" stroke-width="0.5">t=65400 s</text>
<text x="223.5 234.2" y="169.6" font-size="17.9" style="font-family:'DejaVu Sans','Liberation Sans',sans-serif;font-weight:400" stroke="#000" stroke-width="0.45">20</text>
<text x="223.5 234.2" y="215.4" font-size="17.9" style="font-family:'DejaVu Sans','Liberation Sans',sans-serif;font-weight:400" stroke="#000" stroke-width="0.45">16</text>
<text x="223.5 234.7" y="261.3" font-size="17.9" style="font-family:'DejaVu Sans','Liberation Sans',sans-serif;font-weight:400" stroke="#000" stroke-width="0.45">12</text>
<text x="234.2" y="307.2" font-size="17.9" style="font-family:'DejaVu Sans','Liberation Sans',sans-serif;font-weight:400" stroke="#000" stroke-width="0.45">8</text>
<text x="234.7" y="353.0" font-size="17.9" style="font-family:'DejaVu Sans','Liberation Sans',sans-serif;font-weight:400" stroke="#000" stroke-width="0.45">4</text>
<text x="326.9" y="414.9" font-size="17.8" style="font-family:'DejaVu Sans','Liberation Sans',sans-serif;font-weight:400" stroke="#000" stroke-width="0.5">1</text>
<text x="403.7" y="414.9" font-size="17.8" style="font-family:'DejaVu Sans','Liberation Sans',sans-serif;font-weight:400" stroke="#000" stroke-width="0.5">2</text>
<text x="480.8" y="414.9" font-size="17.8" style="font-family:'DejaVu Sans','Liberation Sans',sans-serif;font-weight:400" stroke="#000" stroke-width="0.5">3</text>
<text x="556.9" y="414.9" font-size="17.8" style="font-family:'DejaVu Sans','Liberation Sans',sans-serif;font-weight:400" stroke="#000" stroke-width="0.5">4</text>
<text x="634.3" y="414.9" font-size="17.8" style="font-family:'DejaVu Sans','Liberation Sans',sans-serif;font-weight:400" stroke="#000" stroke-width="0.5">5</text>
<text x="565.9 572.3 587.3 598.4 609.9 621.2 631.2 648.7" y="437.9" font-size="17.8" style="font-family:'DejaVu Sans','Liberation Sans',sans-serif;font-weight:400" stroke="#000" stroke-width="0.5">(×1E5 <tspan textLength="14.5" lengthAdjust="spacingAndGlyphs">m</tspan>)</text>
<text x="371.7 386.1 407.5 422.3 437.2 451.1 461.3 474.4 480.5 496.7 510.8 518.6" y="468.5 466.9 468.5 468.5 468.5 468.5 468.5 468.5 468.5 468.5 468.5 468.5" font-size="23" style="font-family:'DejaVu Sans','Liberation Sans',sans-serif;font-weight:400">X<tspan textLength="22" lengthAdjust="spacingAndGlyphs">-</tspan>coordinate</text>
<text x="-2.2 11.9 34.2 48.1 62.1 73.9 85.2 99.0 107.7 122.4 135.9 144.4" y="0.0 -2.0 0.0 0.0 0.0 0.0 0.0 0.0 0.0 0.0 0.0 0.0" font-size="22.3" style="font-family:'DejaVu Sans','Liberation Sans',sans-serif;font-weight:400" transform="translate(208.8 339.6) rotate(-90)">Z<tspan textLength="22" lengthAdjust="spacingAndGlyphs">-</tspan>coordinate</text>
<text x="300.1 311.9 325.8 338.5 348.5 362.0 372.1 383.6 391.3 397.5 409.9 421.7 432.4 443.8 452.2 462.9 472.1 481.9 495.7 505.1 515.2 519.2 531.1 543.0 556.5 566.0 583.9 594.3" y="515.9" font-size="18.4" style="font-family:'DejaVu Sans Condensed','Liberation Sans',sans-serif;font-weight:400" stroke="#000" stroke-width="0.4">CONTOUR INTERVAL = 8.000E<tspan textLength="19" lengthAdjust="spacingAndGlyphs">-</tspan>01</text>
<text x="686.1" y="213.6" font-size="16.8" style="font-family:'DejaVu Sans','Liberation Sans',sans-serif;font-weight:400" stroke="#000" stroke-width="0.5">6</text>
<text x="685.9" y="250.8" font-size="16.8" style="font-family:'DejaVu Sans','Liberation Sans',sans-serif;font-weight:400" stroke="#000" stroke-width="0.5">3</text>
<text x="685.9" y="287.0" font-size="16.8" style="font-family:'DejaVu Sans','Liberation Sans',sans-serif;font-weight:400" stroke="#000" stroke-width="0.5">0</text>
<text x="685.0 698.8" y="323.6" font-size="16.8" style="font-family:'DejaVu Sans','Liberation Sans',sans-serif;font-weight:400" stroke="#000" stroke-width="0.5"><tspan textLength="14" lengthAdjust="spacingAndGlyphs">-</tspan>3</text>
<text x="685.3 699.3" y="372.4" font-size="16.8" style="font-family:'DejaVu Sans','Liberation Sans',sans-serif;font-weight:400" stroke="#000" stroke-width="0.5"><tspan textLength="14" lengthAdjust="spacingAndGlyphs">-</tspan>7</text>
</svg>
</body>
</html>
